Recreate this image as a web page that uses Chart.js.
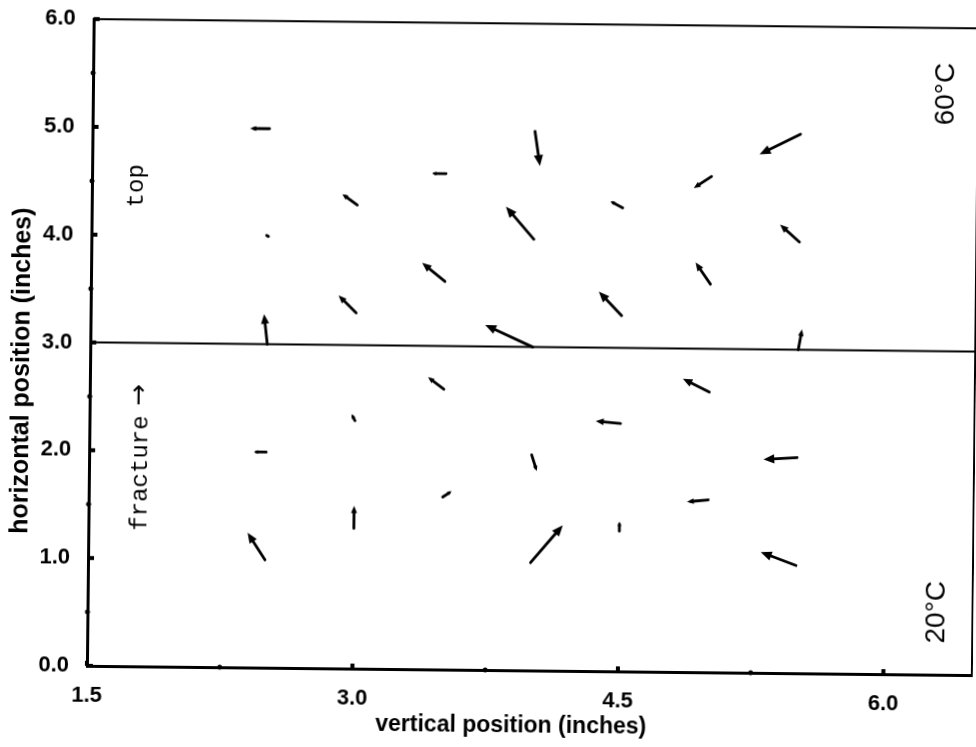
<!DOCTYPE html>
<html>
<head>
<meta charset="utf-8">
<script src="https://cdn.jsdelivr.net/npm/chart.js@4.4.1/dist/chart.umd.min.js"></script>
<style>
  html, body { margin: 0; padding: 0; background: #fff; overflow: hidden; }
  /* the plotted sheet sits a little skewed on the page */
  #wrap { position: absolute; left: 0; top: 0; width: 976px; height: 747px;
          transform: rotate(0.6deg); transform-origin: 488px 373px; }
</style>
</head>
<body>
<div id="wrap"><canvas id="field" width="976" height="747"></canvas></div>
<script>
// arrow tails (inches) on the staggered measuring grid
const tailX = [2.5, 4.0, 5.5, 3.5, 5.0, 3.0, 4.5, 2.5, 4.0, 5.5, 3.5, 5.0, 3.0, 4.5, 2.5, 4.0,
               5.5, 3.5, 5.0, 3.0, 4.5, 2.5, 4.0, 5.5, 3.5, 5.0, 3.0, 4.5, 2.5, 4.0, 5.5];
const tailY = [5.0, 5.0, 5.0, 4.6, 4.6, 4.3, 4.3, 4.0, 4.0, 4.0, 3.6, 3.6, 3.3, 3.3, 3.0, 3.0,
               3.0, 2.6, 2.6, 2.3, 2.3, 2.0, 2.0, 2.0, 1.6, 1.6, 1.3, 1.3, 1.0, 1.0, 1.0];
// displacement components (same units as the axes)
const vecX = [-0.11, 0.03, -0.23, -0.08, -0.10, -0.085, -0.07, -0.01, -0.16, -0.11, -0.13, -0.085,
              -0.10, -0.13, -0.02, -0.27, 0.02, -0.09, -0.15, -0.02, -0.14, -0.07, 0.03, -0.19,
              0.05, -0.12, 0.0, 0.0, -0.10, 0.18, -0.20];
const vecY = [0.0, -0.32, -0.19, 0.0, -0.11, 0.10, 0.06, 0.01, 0.30, 0.16, 0.17, 0.20,
              0.16, 0.22, 0.28, 0.20, 0.19, 0.11, 0.12, 0.06, 0.02, 0.0, -0.15, -0.02,
              0.055, -0.02, 0.21, 0.09, 0.25, 0.35, 0.12];

const xTickValues = [1.5, 2.25, 3.0, 3.75, 4.5, 5.25, 6.0];
const xTickLabels = ['1.5', '', '3.0', '', '4.5', '', '6.0'];
const yTickValues = [0, 0.5, 1, 1.5, 2, 2.5, 3, 3.5, 4, 4.5, 5, 5.5, 6];
const yTickLabels = ['0.0', '', '1.0', '', '2.0', '', '3.0', '', '4.0', '', '5.0', '', '6.0'];

// fracture plane
const fractureX = [1.5, 6.5];
const fractureY = [3.0, 3.0];

const noteText = ['top', 'fracture', '60°C', '20°C'];
const noteX = [1.754, 1.79, 6.32, 6.30];
const noteY = [4.457, 1.94, 5.387, 0.58];

const xTitle = 'vertical position (inches)';
const yTitle = 'horizontal position (inches)';

const SANS = '"Liberation Sans", Arial, Helvetica, sans-serif';
const MONO = '"Liberation Mono", "DejaVu Sans Mono", monospace';
const noteFonts = ['24px ' + MONO, '24px ' + MONO, '28px ' + SANS, '28px ' + SANS];

// draws text turned to read bottom-to-top; optional trailing arrow glyph
function rotatedText(ctx, text, px, py, font, arrow) {
  ctx.save();
  ctx.translate(px, py);
  ctx.rotate(-Math.PI / 2);
  ctx.font = font;
  ctx.textBaseline = 'middle';
  if (!arrow) {
    ctx.textAlign = 'center';
    ctx.fillText(text, 0, 0);
  } else {
    const arrowFont = '26px "DejaVu Sans", sans-serif';
    const gap = 10;
    const w1 = ctx.measureText(text).width;
    ctx.font = arrowFont;
    const w2 = ctx.measureText(arrow).width;
    const start = -(w1 + gap + w2) / 2;
    ctx.textAlign = 'left';
    ctx.font = font;
    ctx.fillText(text, start, 0);
    ctx.font = arrowFont;
    ctx.fillText(arrow, start + w1 + gap, -1);
  }
  ctx.restore();
}

const fieldPlugin = {
  id: 'fieldPlugin',
  afterDatasetsDraw(chart) {
    const { ctx, chartArea: a, scales: { x, y } } = chart;
    ctx.save();
    ctx.strokeStyle = '#000';
    ctx.fillStyle = '#000';

    // upper and right edge of the frame
    ctx.lineWidth = 2;
    ctx.beginPath();
    ctx.moveTo(a.left, a.top);
    ctx.lineTo(a.right, a.top);
    ctx.lineTo(a.right, a.bottom);
    ctx.stroke();

    // tick marks sit on the axes: dots for minor, stubs for labelled ones
    yTickValues.forEach((v, i) => {
      const py = y.getPixelForValue(v);
      if (yTickLabels[i]) ctx.fillRect(a.left, py - 2, 6, 4);
      else { ctx.beginPath(); ctx.arc(a.left, py, 2.5, 0, Math.PI * 2); ctx.fill(); }
    });
    xTickValues.forEach((v, i) => {
      const px = x.getPixelForValue(v);
      if (xTickLabels[i]) ctx.fillRect(px - 2, a.bottom - 5, 4, 5);
      else { ctx.beginPath(); ctx.arc(px, a.bottom, 2.5, 0, Math.PI * 2); ctx.fill(); }
    });

    // displacement arrows
    ctx.lineCap = 'round';
    ctx.lineWidth = 2.8;
    tailX.forEach((tx, i) => {
      const x0 = x.getPixelForValue(tx);
      const y0 = y.getPixelForValue(tailY[i]);
      const x1 = x.getPixelForValue(tx + vecX[i]);
      const y1 = y.getPixelForValue(tailY[i] + vecY[i]);
      const len = Math.hypot(x1 - x0, y1 - y0);
      const ang = Math.atan2(y1 - y0, x1 - x0);
      const head = len < 6 ? 0 : Math.min(11, Math.max(4.5, len * 0.32));
      const c = Math.cos(ang), s = Math.sin(ang);
      ctx.beginPath();
      ctx.moveTo(x0, y0);
      ctx.lineTo(x1 - c * head * 0.6, y1 - s * head * 0.6);
      ctx.stroke();
      if (head > 0) {
        const w = head * 0.42;
        ctx.beginPath();
        ctx.moveTo(x1, y1);
        ctx.lineTo(x1 - head * c + w * s, y1 - head * s - w * c);
        ctx.lineTo(x1 - head * c - w * s, y1 - head * s + w * c);
        ctx.closePath();
        ctx.fill();
      }
    });

    // region notes
    noteText.forEach((t, i) => {
      rotatedText(ctx, t, x.getPixelForValue(noteX[i]), y.getPixelForValue(noteY[i]), noteFonts[i],
                  t === 'fracture' ? '\u2192' : null);
    });

    // axis titles
    rotatedText(ctx, yTitle, a.left - 68, (a.top + a.bottom) / 2 + 29, 'bold 25px ' + SANS);
    ctx.font = 'bold 23px ' + SANS;
    ctx.textAlign = 'center';
    ctx.textBaseline = 'middle';
    ctx.fillText(xTitle, (a.left + a.right) / 2 - 18, a.bottom + 56);

    ctx.restore();
  }
};

const tickFont = { family: SANS, size: 22, weight: 'bold' };

new Chart(document.getElementById('field').getContext('2d'), {
  type: 'scatter',
  data: {
    datasets: [{
      label: 'fracture',
      data: fractureX.map((v, i) => ({ x: v, y: fractureY[i] })),
      showLine: true,
      borderColor: '#000',
      borderWidth: 2,
      pointRadius: 0
    }]
  },
  options: {
    responsive: false,
    animation: false,
    devicePixelRatio: 1,
    layout: { padding: { top: 22, right: 1, left: 0, bottom: 0 } },
    plugins: { legend: { display: false }, tooltip: { enabled: false } },
    scales: {
      x: {
        type: 'linear',
        min: 1.5,
        max: 6.5,
        grid: { display: false },
        border: { display: true, color: '#000', width: 3 },
        afterBuildTicks: s => { s.ticks = xTickValues.map(v => ({ value: v })); },
        afterFit: s => { s.height = 77; },
        ticks: {
          autoSkip: false, maxRotation: 0, padding: 9, color: '#000', font: tickFont,
          callback: (v, i) => xTickLabels[i]
        }
      },
      y: {
        type: 'linear',
        min: 0,
        max: 6,
        grid: { display: false },
        border: { display: true, color: '#000', width: 3 },
        afterBuildTicks: s => { s.ticks = yTickValues.map(v => ({ value: v })); },
        afterFit: s => { s.width = 90; },
        ticks: {
          autoSkip: false, padding: 10, color: '#000', font: tickFont,
          callback: (v, i) => yTickLabels[i]
        }
      }
    }
  },
  plugins: [fieldPlugin]
});
</script>
</body>
</html>
